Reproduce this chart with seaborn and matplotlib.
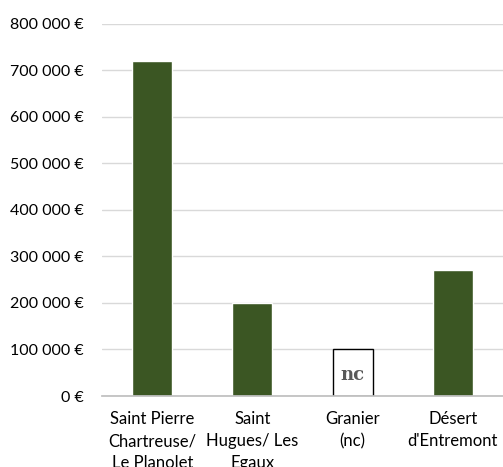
import matplotlib
matplotlib.use("Agg")
import matplotlib.pyplot as plt
import seaborn as sns
from matplotlib.ticker import FuncFormatter, FixedLocator

# ----------------------------------------------------------
# Data
# ----------------------------------------------------------
stations = ["Saint Pierre\nChartreuse/\nLe Planolet",
            "Saint\nHugues/ Les\nEgaux",
            "Granier\n(nc)",
            "Désert\nd'Entremont"]
montants = [720000, 200000, 100000, 270000]   # Granier : valeur non communiquée (case "nc")
nc_index = 2
y_ticks = [0, 100000, 200000, 300000, 400000, 500000, 600000, 700000, 800000]

GREEN = "#3b5623"

sns.set_theme(style="white")
plt.rcParams["font.family"] = ["Lato", "DejaVu Sans"]

fig = plt.figure(figsize=(5.03, 4.67), dpi=100)
ax = fig.add_axes([0.203, 0.152, 0.797, 0.797])

sns.barplot(x=stations, y=montants, color=GREEN, width=0.4, saturation=1, ax=ax)

# Granier: placeholder white box with "nc"
p = ax.patches[nc_index]
p.set_facecolor("white")
p.set_edgecolor("black")
p.set_linewidth(1.0)
ax.text(p.get_x() + p.get_width() / 2, montants[nc_index] * 0.46, "nc",
        ha="center", va="center", fontsize=13, fontweight="bold",
        family="DejaVu Serif", color="#595959")

ax.set_ylim(0, 800000)
ax.set_xlim(-0.5, len(stations) - 0.5)
ax.yaxis.set_major_locator(FixedLocator(y_ticks))
ax.yaxis.set_major_formatter(FuncFormatter(lambda v, _: f"{int(v):,} €".replace(",", " ")))
ax.grid(axis="y", color="#d9d9d9", linewidth=1)
ax.set_axisbelow(True)

for s in ["top", "right", "left"]:
    ax.spines[s].set_visible(False)
ax.spines["bottom"].set_color("#bfbfbf")

ax.tick_params(axis="y", length=0, pad=13, labelsize=11.5, labelcolor="black")
ax.tick_params(axis="x", which="major", length=0, pad=11, labelsize=12, labelcolor="black")
ax.set_xticks([i - 0.5 for i in range(len(stations) + 1)], minor=True)
ax.tick_params(axis="x", which="minor", length=5, color="#bfbfbf", width=1)
for lbl in ax.get_xticklabels():
    lbl.set_linespacing(1.45)

fig.savefig("out.png", dpi=100)
